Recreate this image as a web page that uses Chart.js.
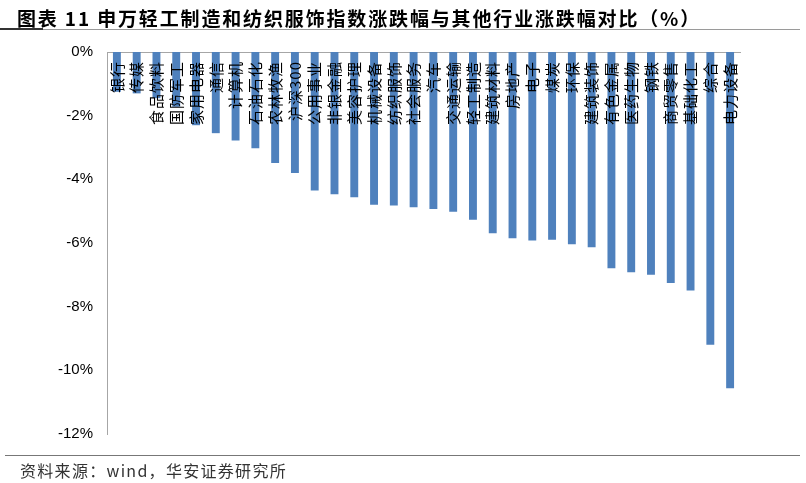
<!DOCTYPE html>
<html>
<head>
<meta charset="utf-8">
<script src="https://cdn.jsdelivr.net/npm/chart.js@4/dist/chart.umd.min.js"></script>
<style>
  html, body { margin: 0; padding: 0; background: #fff; }
  body { width: 806px; height: 483px; position: relative; overflow: hidden; }
  #title {
    position: absolute; left: 17px; top: 4px; letter-spacing: 1.85px;
    font: bold 19px "Noto Sans CJK SC", sans-serif; color: #000; white-space: nowrap;
  }
  #title-line { position: absolute; left: 0; top: 29px; width: 800px; height: 1px; background: #9a9a9a; }
  #title-mark { position: absolute; left: 0; top: 28px; width: 43px; height: 2px; background: #333; }
  #src-line { position: absolute; left: 5px; top: 455px; width: 795px; height: 1px; background: #777; }
  #source {
    position: absolute; left: 20px; top: 458px; letter-spacing: 1.3px;
    font: 16px "Noto Sans CJK SC", sans-serif; color: #333; white-space: nowrap;
  }
  #chart { position: absolute; left: 0; top: 0; }
</style>
</head>
<body>
<canvas id="chart" width="806" height="483"></canvas>
<div id="title">图表 11 申万轻工制造和纺织服饰指数涨跌幅与其他行业涨跌幅对比（%）</div>
<div id="title-line"></div>
<div id="title-mark"></div>
<div id="src-line"></div>
<div id="source">资料来源：wind，华安证券研究所</div>

<script>
// ── Data ──
const industries = [
  '银行', '传媒', '食品饮料', '国防军工', '家用电器', '通信', '计算机', '石油石化',
  '农林牧渔', '沪深300', '公用事业', '非银金融', '美容护理', '机械设备', '纺织服饰', '社会服务',
  '汽车', '交通运输', '轻工制造', '建筑材料', '房地产', '电子', '煤炭', '环保',
  '建筑装饰', '有色金属', '医药生物', '钢铁', '商贸零售', '基础化工', '综合', '电力设备'
];
const changePct = [
  -1.25, -1.30, -1.45, -1.72, -2.30, -2.55, -2.78, -3.02,
  -3.49, -3.80, -4.35, -4.47, -4.56, -4.80, -4.82, -4.88,
  -4.93, -5.02, -5.27, -5.69, -5.85, -5.92, -5.90, -6.04,
  -6.13, -6.79, -6.92, -7.00, -7.26, -7.49, -9.20, -10.56
];
const yTicks = [0, -2, -4, -6, -8, -10, -12];

// ── Category labels drawn inside the plot, under the zero line ──
const insideLabels = {
  id: 'insideLabels',
  afterDatasetsDraw(chart) {
    const { ctx, scales: { x, y } } = chart;
    const top = y.getPixelForValue(0) + 9;
    ctx.save();
    ctx.fillStyle = '#000';
    ctx.font = '15px "Noto Sans CJK SC", sans-serif';
    ctx.letterSpacing = '1px';
    ctx.textAlign = 'right';
    ctx.textBaseline = 'middle';
    industries.forEach((name, i) => {
      ctx.save();
      ctx.translate(x.getPixelForValue(i), top);
      ctx.rotate(-Math.PI / 2);
      ctx.fillText(name, 0, 0);
      ctx.restore();
    });
    ctx.restore();
  }
};

new Chart(document.getElementById('chart'), {
  type: 'bar',
  data: {
    labels: industries,
    datasets: [{
      data: changePct,
      backgroundColor: '#4f81bd',
      borderWidth: 0,
      barPercentage: 0.4,
      categoryPercentage: 1
    }]
  },
  options: {
    responsive: false,
    animation: false,
    layout: { padding: { top: 52, bottom: 49, left: 0, right: 66 } },
    plugins: { legend: { display: false }, tooltip: { enabled: false } },
    scales: {
      x: {
        position: 'top',
        grid: { display: false, drawTicks: false },
        border: { display: true, color: '#a6a6a6', width: 1 },
        ticks: { display: false },
        afterFit: s => { s.height = 0; }
      },
      y: {
        min: -12,
        max: 0,
        grid: { display: false, drawTicks: false },
        border: { display: true, color: '#a6a6a6', width: 1 },
        afterBuildTicks: s => { s.ticks = yTicks.map(v => ({ value: v })); },
        afterFit: s => { s.width = 107; },
        ticks: {
          padding: 14,
          color: '#000',
          font: { family: '"Liberation Sans", Arial, sans-serif', size: 15 },
          callback: v => v + '%'
        }
      }
    }
  },
  plugins: [insideLabels]
});
</script>
</body>
</html>
